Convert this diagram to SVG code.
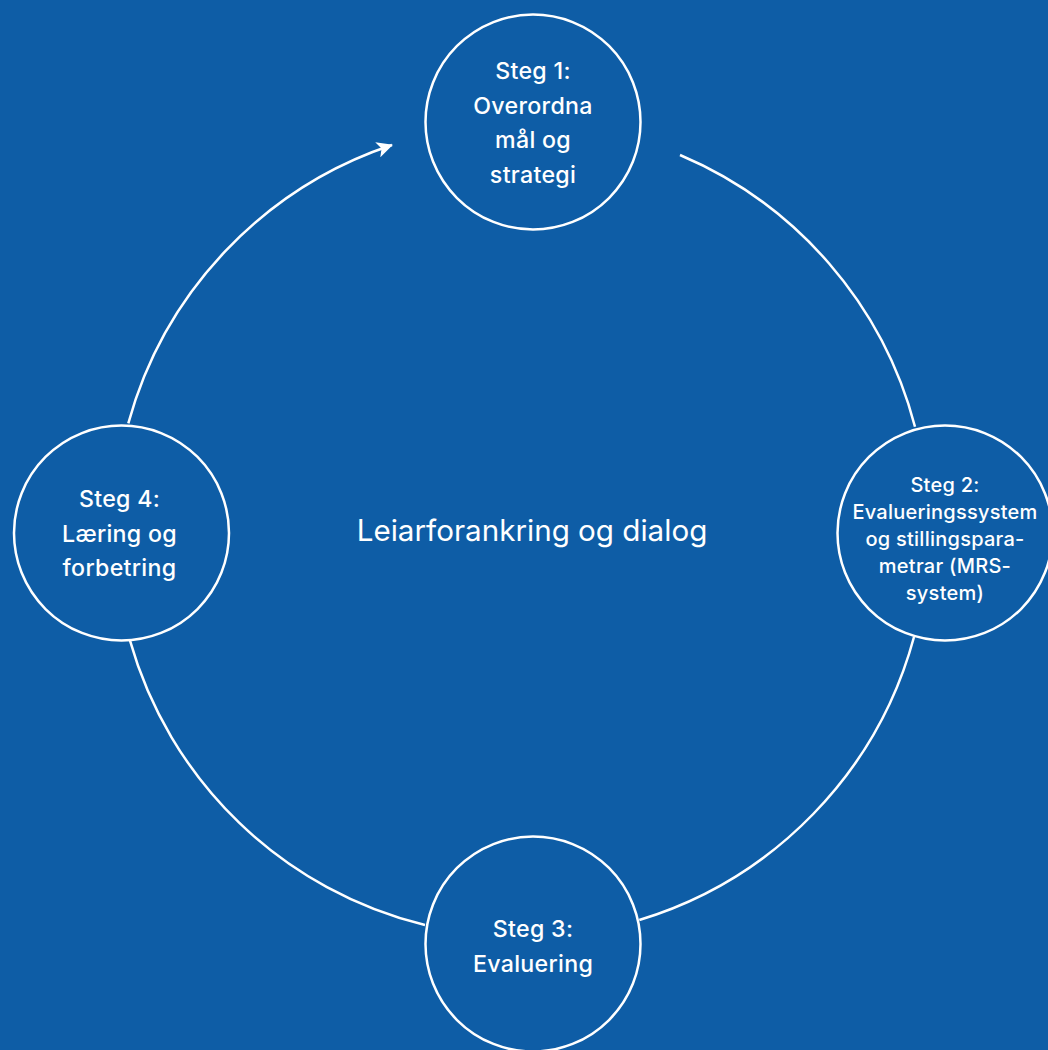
<svg xmlns="http://www.w3.org/2000/svg" width="1048" height="1050" viewBox="0 0 1048 1050">
<defs>
<style>
.bg{fill:#0e5da6}
.node{fill:#0e5da6;stroke:#ffffff;stroke-width:2.5}
.conn{fill:none;stroke:#ffffff;stroke-width:2.5}
.t{font-family:Inter,"Noto Sans","Liberation Sans",sans-serif;fill:#ffffff;text-anchor:middle;font-weight:500}
.big{font-size:23.2px;letter-spacing:0.3px}
.small{font-size:20px;letter-spacing:0.25px}
.center{font-size:29.6px;font-weight:400}
</style>
<marker id="arrow" viewBox="0 0 16 16" refX="15" refY="8" markerWidth="16" markerHeight="16" markerUnits="userSpaceOnUse" orient="auto">
<path d="M0,0 L16,8 L0,16 L4,8 Z" fill="#ffffff"/>
</marker>
</defs>
<rect class="bg" x="0" y="0" width="1048" height="1050"/>
<g id="connectors">
<path class="conn" d="M680,155 A407,407 0 0 1 915,426.7"/>
<path class="conn" d="M914,637 A407,407 0 0 1 639.3,920"/>
<path class="conn" d="M425,925 A407,407 0 0 1 130,640.7"/>
<path class="conn" d="M128.3,423.3 A407,407 0 0 1 392,145" marker-end="url(#arrow)"/>
</g>
<g id="node1">
<circle class="node" cx="533" cy="122" r="107.5"/>
<text class="t big"><tspan x="533" y="79">Steg 1:</tspan><tspan x="533" y="113.5">Overordna</tspan><tspan x="533" y="148">mål og</tspan><tspan x="533" y="182.5">strategi</tspan></text>
</g>
<g id="node2">
<circle class="node" cx="945" cy="533" r="107.5"/>
<text class="t small"><tspan x="945" y="492">Steg 2:</tspan><tspan x="945" y="519">Evalueringssystem</tspan><tspan x="945" y="546">og stillingspara-</tspan><tspan x="945" y="573">metrar (MRS-</tspan><tspan x="945" y="600">system)</tspan></text>
</g>
<g id="node3">
<circle class="node" cx="533" cy="944" r="107.5"/>
<text class="t big"><tspan x="533" y="937">Steg 3:</tspan><tspan x="533" y="971.5">Evaluering</tspan></text>
</g>
<g id="node4">
<circle class="node" cx="121.5" cy="533" r="107.5"/>
<text class="t big"><tspan x="119.5" y="507">Steg 4:</tspan><tspan x="119.5" y="541.5">Læring og</tspan><tspan x="119.5" y="576">forbetring</tspan></text>
</g>
<g id="center">
<text class="t center" x="532" y="541">Leiarforankring og dialog</text>
</g>
</svg>
